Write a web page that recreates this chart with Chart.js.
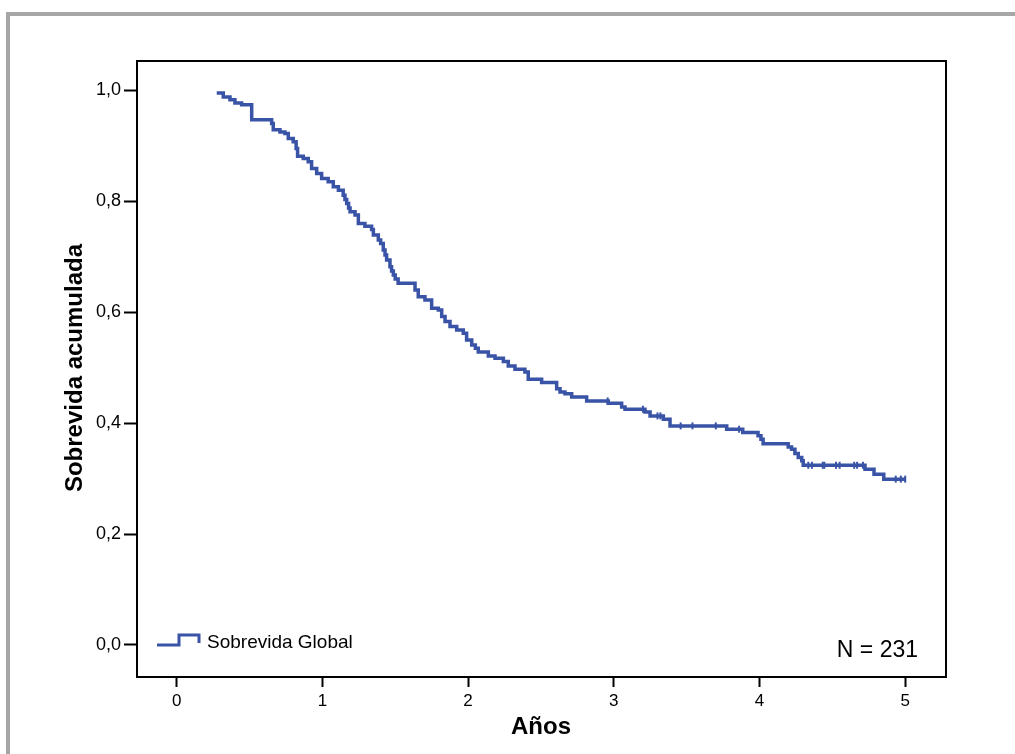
<!DOCTYPE html>
<html>
<head>
<meta charset="utf-8">
<script src="https://cdn.jsdelivr.net/npm/chart.js@4.4.0/dist/chart.umd.min.js"></script>
<style>
  html, body { margin: 0; padding: 0; background: #fff; overflow: hidden; }
  #wrap { position: relative; width: 1015px; height: 754px; }
  #frame { position: absolute; left: 6px; top: 12px; width: 1009px; height: 742px; border-top: 4px solid #a6a6a6; border-left: 4px solid #a6a6a6; box-sizing: border-box; pointer-events: none; }
  canvas { position: absolute; left: 0; top: 0; }
</style>
</head>
<body>
<div id="wrap">
  <canvas id="kmChart" width="1015" height="754"></canvas>
  <div id="frame"></div>
</div>
<script>
// tiempos (años) y sobrevida acumulada despues de cada evento
const years = [0.275, 0.32, 0.366, 0.40, 0.446, 0.515, 0.652, 0.663, 0.709, 0.743,
  0.766, 0.80, 0.82, 0.83, 0.869, 0.903, 0.926, 0.961, 0.995, 1.04,
  1.075, 1.11, 1.143, 1.155, 1.167, 1.18, 1.19, 1.224, 1.247, 1.292,
  1.338, 1.35, 1.384, 1.40, 1.418, 1.43, 1.441, 1.464, 1.475, 1.487,
  1.50, 1.52, 1.636, 1.658, 1.704, 1.75, 1.796, 1.819, 1.842, 1.876,
  1.922, 1.967, 1.99, 2.025, 2.05, 2.07, 2.139, 2.185, 2.242, 2.276,
  2.322, 2.39, 2.413, 2.505, 2.608, 2.631, 2.665, 2.711, 2.814, 2.962,
  3.054, 3.077, 3.214, 3.249, 3.34, 3.386, 3.775, 3.885, 3.99, 4.01,
  4.025, 4.197, 4.22, 4.243, 4.266, 4.29, 4.30, 4.724, 4.786, 4.853, 5.0];
const survival = [0.995, 0.988, 0.983, 0.977, 0.974, 0.947, 0.940, 0.929, 0.925, 0.922,
  0.913, 0.907, 0.895, 0.881, 0.877, 0.871, 0.859, 0.850, 0.841, 0.835,
  0.826, 0.820, 0.811, 0.803, 0.796, 0.788, 0.781, 0.775, 0.760, 0.755,
  0.749, 0.739, 0.730, 0.724, 0.712, 0.703, 0.694, 0.682, 0.674, 0.667,
  0.660, 0.652, 0.640, 0.628, 0.622, 0.607, 0.604, 0.592, 0.583, 0.574,
  0.568, 0.562, 0.550, 0.541, 0.535, 0.528, 0.521, 0.517, 0.511, 0.503,
  0.497, 0.492, 0.479, 0.473, 0.462, 0.456, 0.453, 0.447, 0.440, 0.436,
  0.429, 0.425, 0.420, 0.413, 0.407, 0.395, 0.389, 0.383, 0.377, 0.371,
  0.363, 0.357, 0.353, 0.345, 0.338, 0.332, 0.324, 0.317, 0.308, 0.299, 0.299];

// casos censurados (marcas verticales)
const censorYears = [2.958, 3.20, 3.30, 3.32, 3.459, 3.54, 3.70, 3.86, 4.335, 4.36,
  4.434, 4.445, 4.525, 4.55, 4.65, 4.67, 4.71, 4.935, 4.97, 5.0];

const xTicks = [0, 1, 2, 3, 4, 5];
const yTicks = [0, 0.2, 0.4, 0.6, 0.8, 1.0];
const yTickLabels = ['0,0', '0,2', '0,4', '0,6', '0,8', '1,0'];

const seriesLabel = 'Sobrevida Global';
const nLabel = 'N = 231';

const lineColor = '#3953a6';
const fontFamily = '"Liberation Sans", Arial, sans-serif';

function survivalAt(t) {
  let s = 1;
  for (let i = 0; i < years.length; i++) {
    if (years[i] <= t) s = survival[i];
  }
  return s;
}

const curve = years.map((t, i) => ({ x: t, y: survival[i] }));
const censored = censorYears.map(t => ({ x: t, y: survivalAt(t) }));

const framePlugin = {
  id: 'frame',
  afterDraw(chart) {
    const { ctx, chartArea } = chart;
    ctx.save();
    ctx.strokeStyle = '#000';
    ctx.lineWidth = 2;
    ctx.strokeRect(chartArea.left + 1, chartArea.top + 1, chartArea.right - chartArea.left - 1, chartArea.bottom - chartArea.top);

    // leyenda interna
    const lx = chartArea.left + 21;
    const ly = chartArea.bottom - 31;
    ctx.strokeStyle = lineColor;
    ctx.lineWidth = 3;
    ctx.beginPath();
    ctx.moveTo(lx, ly);
    ctx.lineTo(lx + 22, ly);
    ctx.lineTo(lx + 22, ly - 10);
    ctx.lineTo(lx + 42, ly - 10);
    ctx.lineTo(lx + 42, ly - 2);
    ctx.stroke();

    ctx.fillStyle = '#000';
    ctx.font = '19px ' + fontFamily;
    ctx.textBaseline = 'alphabetic';
    ctx.textAlign = 'left';
    ctx.fillText(seriesLabel, lx + 50, ly + 3);

    ctx.font = '23px ' + fontFamily;
    ctx.textAlign = 'right';
    ctx.fillText(nLabel, chartArea.right - 28, chartArea.bottom - 19);
    ctx.restore();
  }
};

const ctx = document.getElementById('kmChart').getContext('2d');
new Chart(ctx, {
  type: 'line',
  data: {
    datasets: [{
      label: seriesLabel,
      data: curve,
      borderColor: lineColor,
      borderWidth: 3.5,
      pointRadius: 0,
      stepped: true,
      fill: false
    }, {
      label: 'censurados',
      data: censored,
      showLine: false,
      pointStyle: 'line',
      rotation: 90,
      pointRadius: 3.5,
      borderWidth: 2,
      borderColor: lineColor,
      backgroundColor: lineColor
    }]
  },
  options: {
    responsive: false,
    animation: false,
    devicePixelRatio: 1,
    layout: { padding: { left: 0, top: 60, right: 69, bottom: 0 } },
    plugins: { legend: { display: false }, tooltip: { enabled: false } },
    scales: {
      x: {
        type: 'linear',
        min: -0.279,
        max: 5.28,
        afterFit(scale) { scale.height = 78; },
        afterBuildTicks(scale) { scale.ticks = xTicks.map(v => ({ value: v })); },
        ticks: { color: '#000', font: { family: fontFamily, size: 17 }, padding: 4, maxRotation: 0, callback: v => String(v) },
        grid: { drawOnChartArea: false, drawTicks: true, tickLength: 11, tickWidth: 2, tickColor: '#000' },
        border: { display: false },
        title: { display: true, text: 'Años', color: '#000', font: { family: fontFamily, size: 24, weight: 'bold' }, padding: { top: 0, bottom: 12 } }
      },
      y: {
        type: 'linear',
        min: -0.0559,
        max: 1.0546,
        afterFit(scale) { scale.width = 136; },
        afterBuildTicks(scale) { scale.ticks = yTicks.map(v => ({ value: v })); },
        ticks: { color: '#000', font: { family: fontFamily, size: 18 }, padding: 3, callback: (v, i) => yTickLabels[i] },
        grid: { drawOnChartArea: false, drawTicks: true, tickLength: 12, tickWidth: 2, tickColor: '#000' },
        border: { display: false },
        title: { display: true, text: 'Sobrevida acumulada', color: '#000', font: { family: fontFamily, size: 24, weight: 'bold' }, padding: { top: 61, bottom: 0 } }
      }
    }
  },
  plugins: [framePlugin]
});
</script>
</body>
</html>
